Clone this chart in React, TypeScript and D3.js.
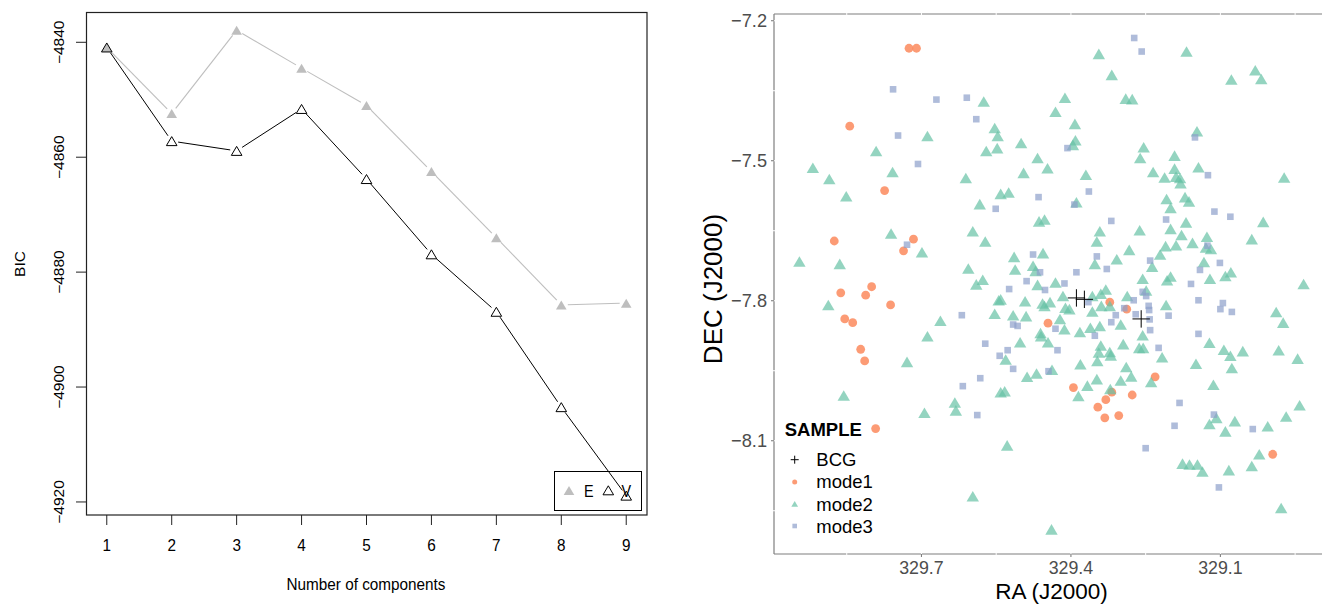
import React from "react";
import * as d3 from "d3";

// ---------- Left panel data (BIC vs number of components) ----------
const components = [1, 2, 3, 4, 5, 6, 7, 8, 9];
const bicE = [-4840.9, -4852.4, -4837.9, -4844.5, -4851.0, -4862.5, -4874.0, -4885.7, -4885.4];
const bicV = [-4840.9, -4857.2, -4858.9, -4851.6, -4863.8, -4876.9, -4886.9, -4903.5, -4918.9];
const bicTicks = [-4840, -4860, -4880, -4900, -4920];
const legendLabels = ["E", "V"];

// ---------- Right panel data (RA, DEC) ----------
const raTicks = [329.7, 329.4, 329.1];
const decTicks = [-7.2, -7.5, -7.8, -8.1];
const sampleLabels = ["BCG", "mode1", "mode2", "mode3"];

const bcg: [number, number][] = [
  [329.389, -7.794], [329.373, -7.797], [329.259, -7.839],
];

const mode1: [number, number][] = [
  [329.725, -7.259], [329.710, -7.259], [329.844, -7.426], [329.774, -7.564], [329.875, -7.672],
  [329.716, -7.668], [329.736, -7.693], [329.800, -7.770], [329.862, -7.783], [329.812, -7.788],
  [329.762, -7.809], [329.854, -7.839], [329.838, -7.847], [329.822, -7.904], [329.814, -7.929],
  [329.792, -8.074], [329.446, -7.848], [329.322, -7.803], [329.288, -7.818], [329.395, -7.986],
  [329.318, -7.996], [329.330, -8.012], [329.346, -8.028], [329.332, -8.051], [329.304, -8.046],
  [329.277, -8.002], [329.231, -7.963], [328.995, -8.129],
];

const mode2: [number, number][] = [
  [329.688, -7.447], [329.791, -7.479], [329.918, -7.515], [329.885, -7.539], [329.758, -7.524],
  [329.851, -7.576], [329.761, -7.656], [329.699, -7.696], [329.945, -7.716], [329.864, -7.721],
  [329.344, -7.271], [329.318, -7.316], [329.575, -7.373], [329.412, -7.365], [329.431, -7.395],
  [329.290, -7.367], [329.277, -7.368], [329.392, -7.421], [329.553, -7.430], [329.547, -7.447],
  [329.391, -7.456], [329.396, -7.466], [329.570, -7.479], [329.548, -7.473], [329.500, -7.462],
  [329.467, -7.494], [329.447, -7.516], [329.495, -7.526], [329.611, -7.537], [329.370, -7.530],
  [329.541, -7.571], [329.525, -7.568], [329.583, -7.593], [329.389, -7.589], [329.464, -7.630],
  [329.453, -7.626], [329.597, -7.651], [329.572, -7.673], [329.342, -7.651], [329.348, -7.673],
  [329.514, -7.706], [329.456, -7.698], [329.512, -7.733], [329.476, -7.725], [329.471, -7.736],
  [329.606, -7.731], [329.577, -7.755], [329.590, -7.765], [329.431, -7.761], [329.467, -7.766],
  [329.352, -7.721], [329.308, -7.711], [329.283, -7.691], [329.168, -7.266], [329.030, -7.306],
  [329.018, -7.325], [329.078, -7.326], [329.147, -7.437], [329.254, -7.471], [329.261, -7.494],
  [329.192, -7.489], [329.235, -7.524], [329.212, -7.536], [329.192, -7.517], [329.189, -7.534],
  [329.181, -7.537], [329.180, -7.548], [329.144, -7.514], [328.972, -7.536], [329.208, -7.582],
  [329.171, -7.578], [329.163, -7.587], [329.200, -7.601], [329.262, -7.649], [329.200, -7.646],
  [329.169, -7.632], [329.014, -7.631], [329.178, -7.659], [329.210, -7.683], [329.189, -7.681],
  [329.156, -7.676], [329.127, -7.663], [329.129, -7.686], [329.119, -7.689], [329.037, -7.668],
  [329.221, -7.701], [329.237, -7.727], [329.133, -7.717], [329.256, -7.753], [329.207, -7.756],
  [329.200, -7.748], [329.121, -7.753], [329.090, -7.747], [329.079, -7.739], [328.933, -7.764],
  [329.887, -7.809], [329.662, -7.843], [329.688, -7.876], [329.729, -7.931], [329.856, -8.003],
  [329.694, -8.040], [329.633, -8.018], [329.631, -8.035], [329.545, -7.799], [329.541, -7.797],
  [329.492, -7.801], [329.457, -7.806], [329.442, -7.803], [329.453, -7.811], [329.416, -7.790],
  [329.411, -7.815], [329.403, -7.818], [329.357, -7.790], [329.340, -7.785], [329.330, -7.776],
  [329.339, -7.811], [329.357, -7.823], [329.322, -7.811], [329.287, -7.790], [329.553, -7.828],
  [329.516, -7.831], [329.490, -7.833], [329.422, -7.839], [329.413, -7.861], [329.382, -7.867],
  [329.361, -7.858], [329.342, -7.854], [329.300, -7.851], [329.461, -7.869], [329.460, -7.876],
  [329.502, -7.889], [329.446, -7.889], [329.340, -7.896], [329.295, -7.893], [329.344, -7.911],
  [329.322, -7.910], [329.320, -7.917], [329.347, -7.929], [329.531, -7.926], [329.381, -7.936],
  [329.438, -7.948], [329.469, -7.956], [329.488, -7.963], [329.289, -7.942], [329.279, -7.962],
  [329.348, -7.968], [329.300, -7.971], [329.367, -7.982], [329.321, -7.989], [329.385, -8.004],
  [329.541, -7.996], [329.533, -7.994], [329.528, -8.110], [329.597, -8.219], [329.439, -8.290],
  [329.249, -7.778], [329.209, -7.809], [329.256, -7.874], [329.263, -7.901], [329.255, -7.901],
  [329.217, -7.921], [329.122, -7.890], [329.093, -7.905], [329.080, -7.918], [329.055, -7.908],
  [329.077, -7.944], [329.149, -7.935], [329.239, -7.974], [329.114, -7.980], [328.988, -7.824],
  [328.974, -7.847], [328.983, -7.906], [328.945, -7.924], [328.941, -8.024], [328.968, -8.048],
  [329.005, -8.069], [329.071, -8.058], [329.108, -8.051], [329.122, -8.064], [329.090, -8.080],
  [329.022, -8.129], [329.037, -8.154], [329.083, -8.163], [329.176, -8.149], [329.162, -8.151],
  [329.146, -8.151], [329.136, -8.166], [328.978, -8.244],
];

const mode3: [number, number][] = [
  [329.757, -7.347], [329.670, -7.369], [329.747, -7.446], [329.707, -7.507], [329.729, -7.680],
  [329.273, -7.237], [329.609, -7.365], [329.590, -7.411], [329.407, -7.473], [329.465, -7.578],
  [329.364, -7.566], [329.551, -7.603], [329.393, -7.594], [329.319, -7.629], [329.476, -7.701],
  [329.348, -7.705], [329.462, -7.739], [329.389, -7.739], [329.328, -7.732], [329.489, -7.758],
  [329.413, -7.763], [329.258, -7.266], [329.151, -7.450], [329.125, -7.531], [329.112, -7.609],
  [329.080, -7.620], [329.209, -7.626], [329.126, -7.682], [329.241, -7.714], [329.101, -7.719],
  [329.141, -7.734], [329.159, -7.764], [329.524, -7.775], [329.452, -7.777], [329.619, -7.831],
  [329.516, -7.851], [329.507, -7.854], [329.431, -7.860], [329.572, -7.892], [329.527, -7.906],
  [329.543, -7.918], [329.427, -7.906], [329.516, -7.946], [329.445, -7.951], [329.582, -7.966],
  [329.617, -7.983], [329.588, -8.045], [329.365, -7.803], [329.352, -7.875], [329.319, -7.846],
  [329.310, -7.831], [329.293, -7.816], [329.274, -7.799], [329.270, -7.829], [329.256, -7.781],
  [329.249, -7.790], [329.244, -7.811], [329.243, -7.820], [329.242, -7.840], [329.241, -7.863],
  [329.204, -7.832], [329.144, -7.799], [329.095, -7.805], [329.100, -7.818], [329.077, -7.824],
  [329.144, -7.871], [329.224, -7.901], [329.182, -8.019], [329.192, -8.068], [329.113, -8.044],
  [329.035, -8.075], [329.250, -8.116], [329.103, -8.200],
];

const COLORS = { mode1: "#FC8D62", mode2: "#66C2A5", mode3: "#8DA0CB" };
const FONT = "'Liberation Sans', Arial, Helvetica, sans-serif";

function triPath(cx: number, cy: number, hw: number, h: number) {
  return `M${cx},${cy - h / 2}L${cx + hw},${cy + h / 2}L${cx - hw},${cy + h / 2}Z`;
}

function gapSegments(xs: number[], ys: number[], gap: number) {
  const segs: { x1: number; y1: number; x2: number; y2: number }[] = [];
  for (let i = 0; i < xs.length - 1; i++) {
    const dx = xs[i + 1] - xs[i];
    const dy = ys[i + 1] - ys[i];
    const len = Math.hypot(dx, dy);
    if (len <= 2 * gap) continue;
    const ux = dx / len, uy = dy / len;
    segs.push({ x1: xs[i] + ux * gap, y1: ys[i] + uy * gap, x2: xs[i + 1] - ux * gap, y2: ys[i + 1] - uy * gap });
  }
  return segs;
}

// R-style text: slightly condensed horizontally
function RText(props: { x: number; y: number; size: number; anchor?: string; rotate?: number; children: React.ReactNode }) {
  const { x, y, size, anchor = "middle", rotate = 0, children } = props;
  const t = rotate ? `translate(${x},${y}) rotate(${rotate}) scale(1,0.9)` : `translate(${x},${y}) scale(0.9,1)`;
  return (
    <text transform={t} textAnchor={anchor} fontSize={size} fill="#000">
      {children}
    </text>
  );
}

function LeftPanel() {
  const x = d3.scaleLinear().domain([0.68, 9.32]).range([86, 647]);
  const y = d3.scaleLinear().domain([-4834.85, -4922.27]).range([12.7, 515]);
  const ex = components.map((c) => x(c));
  const eyE = bicE.map((v) => y(v));
  const eyV = bicV.map((v) => y(v));
  const segE = gapSegments(ex, eyE, 6.5);
  const segV = gapSegments(ex, eyV, 6.5);
  const fs = 17;
  return (
    <g fontFamily={FONT}>
      {segE.map((s, i) => (
        <line key={"se" + i} x1={s.x1} y1={s.y1} x2={s.x2} y2={s.y2} stroke="#BEBEBE" strokeWidth={1.1} />
      ))}
      {ex.map((px, i) => (
        <path key={"pe" + i} d={triPath(px, eyE[i], 5.3, 9)} fill="#BEBEBE" />
      ))}
      {segV.map((s, i) => (
        <line key={"sv" + i} x1={s.x1} y1={s.y1} x2={s.x2} y2={s.y2} stroke="#000" strokeWidth={1} />
      ))}
      {ex.map((px, i) => (
        <path key={"pv" + i} d={triPath(px, eyV[i], 5.3, 9)} fill="none" stroke="#000" strokeWidth={1} />
      ))}
      <rect x={86.5} y={12.5} width={560.5} height={502.5} fill="none" stroke="#222" strokeWidth={1.2} />
      {components.map((c) => (
        <g key={"xt" + c}>
          <line x1={x(c)} x2={x(c)} y1={515} y2={525} stroke="#222" strokeWidth={1} />
          <RText x={x(c)} y={551} size={fs}>{c}</RText>
        </g>
      ))}
      {bicTicks.map((t) => (
        <g key={"yt" + t}>
          <line x1={76} x2={86} y1={y(t)} y2={y(t)} stroke="#222" strokeWidth={1} />
          <RText x={63.5} y={y(t)} size={15.5} rotate={-90}>{"\u2212" + Math.abs(t)}</RText>
        </g>
      ))}
      <RText x={366} y={590} size={fs}>Number of components</RText>
      <RText x={24.5} y={264} size={15.5} rotate={-90}>BIC</RText>
      <rect x={554.5} y={471.5} width={87} height={39} fill="none" stroke="#000" strokeWidth={1} />
      <path d={triPath(569, 490.5, 5.3, 9)} fill="#BEBEBE" />
      <RText x={584} y={497} size={16} anchor="start">{legendLabels[0]}</RText>
      <path d={triPath(608.3, 490.3, 5.3, 9)} fill="none" stroke="#000" strokeWidth={1} />
      <RText x={621.5} y={497} size={16} anchor="start">{legendLabels[1]}</RText>
    </g>
  );
}

function RightPanel() {
  const left = 774, right = 1329, top = 14, bottom = 554;
  const x = d3.scaleLinear().domain([329.996, 328.882]).range([left, right]);
  const y = d3.scaleLinear().domain([-7.1856, -8.3427]).range([top, bottom]);
  const stepX = raTicks[1] - raTicks[0];
  const stepY = decTicks[1] - decTicks[0];
  const gridX: number[] = [];
  for (let i = -2; i <= raTicks.length * 2 + 1; i++) gridX.push(raTicks[0] + (i * stepX) / 2);
  const gridY: number[] = [];
  for (let i = -2; i <= decTicks.length * 2 + 1; i++) gridY.push(decTicks[0] + (i * stepY) / 2);
  const gx = gridX.map((v) => x(v)).filter((p) => p > left + 1 && p < 1322);
  const gy = gridY.map((v) => y(v)).filter((p) => p > top - 1 && p < bottom + 1);
  const axisCol = "#7F7F7F";
  const tickFs = 17.8;
  return (
    <g fontFamily={FONT}>
      <line x1={left} x2={1322} y1={top} y2={top} stroke={axisCol} strokeWidth={1.2} />
      <line x1={left} x2={left} y1={top} y2={bottom} stroke={axisCol} strokeWidth={1.2} />
      <line x1={left} x2={1322} y1={bottom} y2={bottom} stroke={axisCol} strokeWidth={1.2} />
      {gx.map((p, i) => (
        <line key={"gx" + i} x1={p} x2={p} y1={top - 1} y2={bottom + 1} stroke="#fff" strokeWidth={1} />
      ))}
      {gy.map((p, i) => (
        <line key={"gy" + i} x1={left - 1} x2={left + 1} y1={p} y2={p} stroke="#fff" strokeWidth={1} />
      ))}
      {decTicks.map((t) => (
        <g key={"dt" + t}>
          <line x1={left - 3} x2={left} y1={y(t)} y2={y(t)} stroke={axisCol} strokeWidth={1.1} />
          <text x={left - 7} y={y(t)} dy="0.36em" textAnchor="end" fontSize={18.2} fill="#4D4D4D">
            {"\u2212" + Math.abs(t).toFixed(1)}
          </text>
        </g>
      ))}
      {raTicks.map((t) => (
        <g key={"rt" + t}>
          <line x1={x(t)} x2={x(t)} y1={bottom} y2={bottom + 3} stroke={axisCol} strokeWidth={1.1} />
          <text x={x(t)} y={574} textAnchor="middle" fontSize={tickFs} fill="#4D4D4D">{t.toFixed(1)}</text>
        </g>
      ))}
      {mode1.map(([ra, dec], i) => (
        <circle key={"m1" + i} cx={x(ra)} cy={y(dec)} r={4.4} fill={COLORS.mode1} fillOpacity={0.88} />
      ))}
      {mode2.map(([ra, dec], i) => (
        <path key={"m2" + i} d={triPath(x(ra), y(dec), 6.2, 10.6)} fill={COLORS.mode2} fillOpacity={0.7} />
      ))}
      {mode3.map(([ra, dec], i) => (
        <rect key={"m3" + i} x={x(ra) - 3.3} y={y(dec) - 3.3} width={6.6} height={6.6} fill={COLORS.mode3} fillOpacity={0.7} />
      ))}
      {bcg.map(([ra, dec], i) => (
        <g key={"b" + i} stroke="#000" strokeWidth={1}>
          <line x1={x(ra) - 8.7} x2={x(ra) + 8.7} y1={y(dec)} y2={y(dec)} />
          <line x1={x(ra)} x2={x(ra)} y1={y(dec) - 8.7} y2={y(dec) + 8.7} />
        </g>
      ))}
      <text transform={`translate(722,289) rotate(-90)`} textAnchor="middle" fontSize={26} fill="#000">DEC (J2000)</text>
      <text x={1051.5} y={599} textAnchor="middle" fontSize={22.5} fill="#000">RA (J2000)</text>
      <text x={784.7} y={436} fontSize={18.5} fontWeight="bold" fill="#000">SAMPLE</text>
      <g>
        <line x1={790.7} x2={798.7} y1={459.7} y2={459.7} stroke="#000" strokeWidth={1} />
        <line x1={794.7} x2={794.7} y1={455.7} y2={463.7} stroke="#000" strokeWidth={1} />
        <circle cx={794.7} cy={482} r={2.5} fill={COLORS.mode1} fillOpacity={0.88} />
        <path d={triPath(794.7, 503.8, 3.4, 5.8)} fill={COLORS.mode2} fillOpacity={0.7} />
        <rect x={792.4} y={523.7} width={4.6} height={4.6} fill={COLORS.mode3} fillOpacity={0.7} />
        {sampleLabels.map((s, i) => (
          <text key={s} x={816.3} y={466.3 + i * 22.13} fontSize={18.5} fill="#000">{s}</text>
        ))}
      </g>
    </g>
  );
}

export default function App() {
  return (
    <svg width={1322} height={604} style={{ position: "absolute", left: 0, top: 0, background: "#fff" }}>
      <rect x={0} y={0} width={1322} height={604} fill="#fff" />
      <LeftPanel />
      <RightPanel />
    </svg>
  );
}
